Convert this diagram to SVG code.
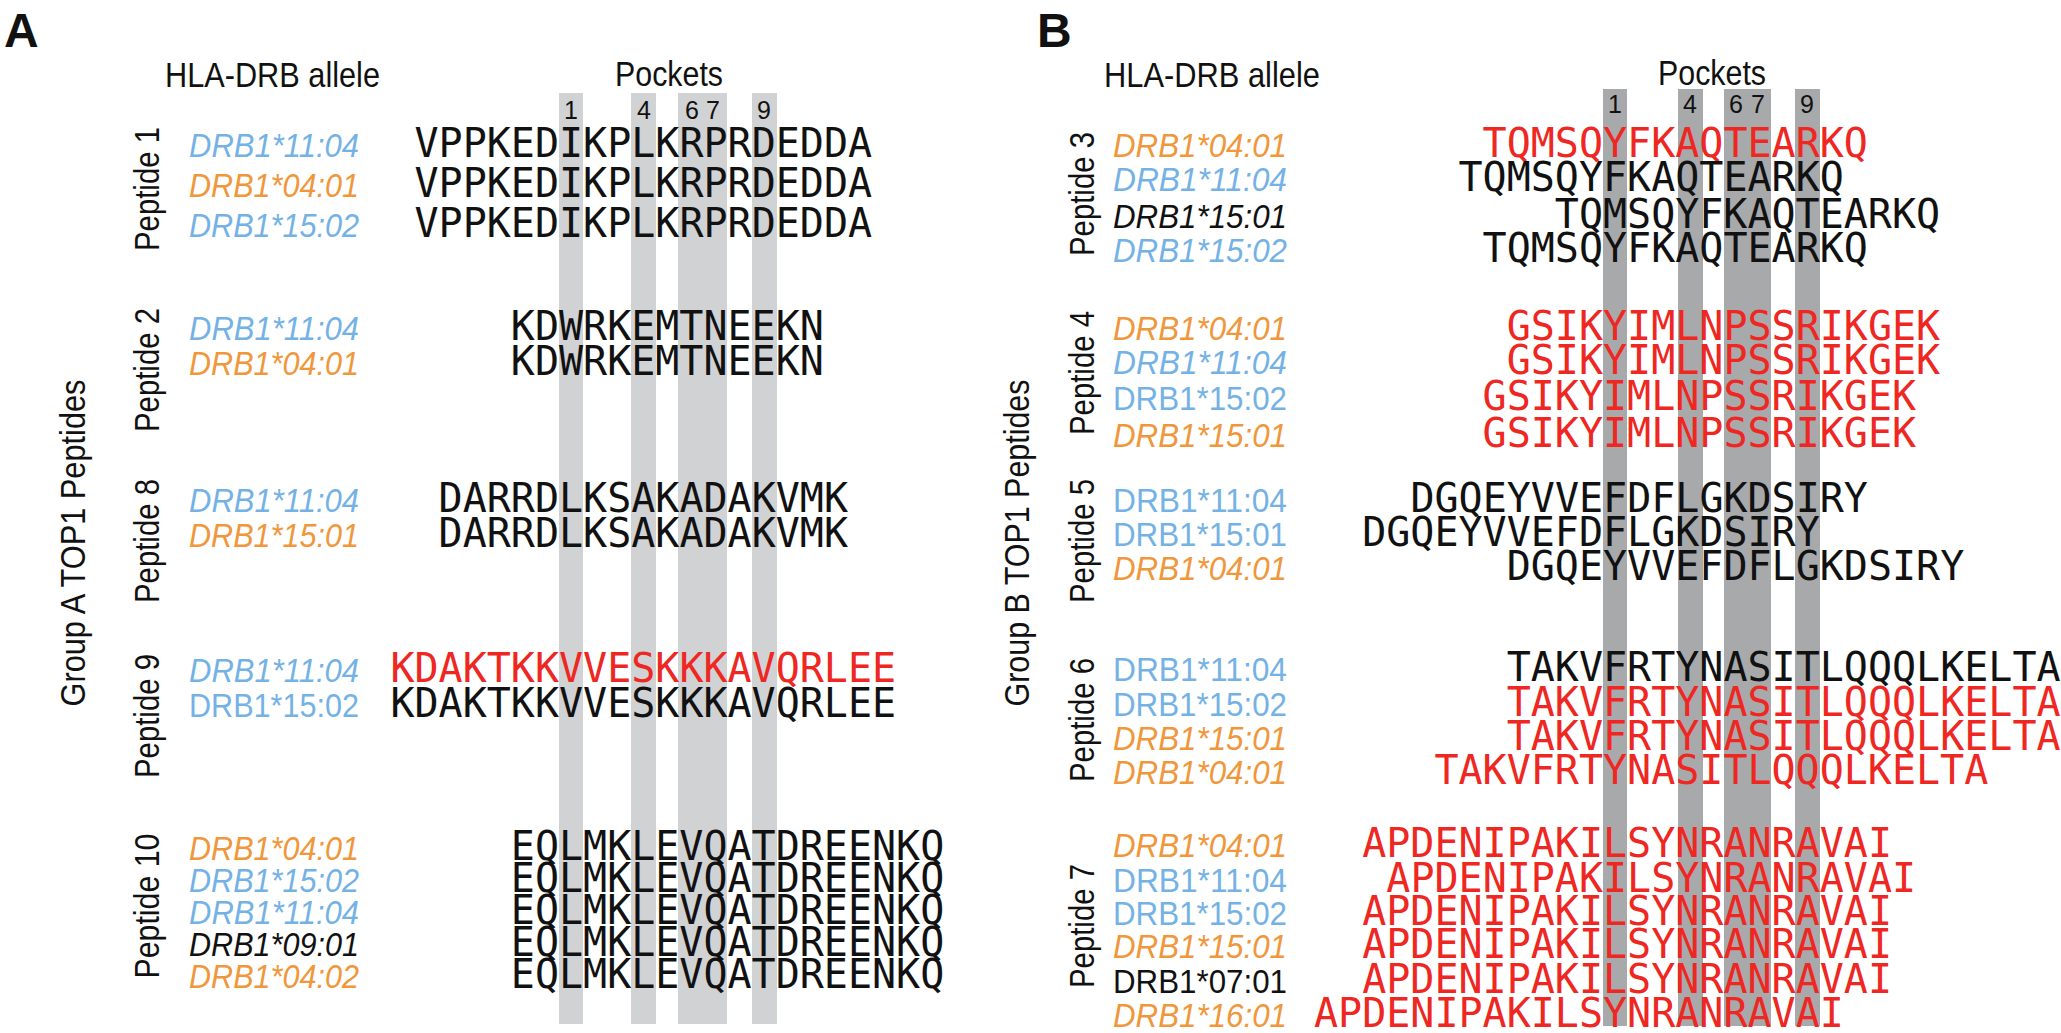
<svg xmlns="http://www.w3.org/2000/svg" width="2061" height="1033" viewBox="0 0 2061 1033">
<style>
.seq{font-family:"DejaVu Sans Mono",monospace;font-size:40px}
.red{fill:#ee2722}
.blk{fill:#111}
.al{font-family:"Liberation Sans",Arial,sans-serif;font-size:34px}
.it{font-style:italic}
.bl{fill:#74b2e6}
.or{fill:#f0973b}
.k{fill:#111}
.lbl{font-family:"Liberation Sans",Arial,sans-serif;font-size:35px;fill:#111}
.num{font-family:"Liberation Sans",Arial,sans-serif;font-size:25px;fill:#111;text-anchor:middle}
.pan{font-family:"Liberation Sans",Arial,sans-serif;font-size:48px;font-weight:bold;fill:#111}
.barA{fill:#d1d2d4}
.barB{fill:#a8a9ab}
</style>
<rect width="2061" height="1033" fill="#fff"/>

<g id="panelA-bars">
<rect class="barA" x="559" y="93" width="24" height="931"/>
<rect class="barA" x="631" y="93" width="25" height="931"/>
<rect class="barA" x="678" y="93" width="49" height="931"/>
<rect class="barA" x="752" y="93" width="25" height="931"/>
</g>
<g id="panelB-bars">
<rect class="barB" x="1603" y="89" width="24" height="937"/>
<rect class="barB" x="1678" y="89" width="25" height="937"/>
<rect class="barB" x="1724" y="89" width="47" height="937"/>
<rect class="barB" x="1795" y="89" width="25" height="937"/>
</g>

<g id="panelA-header">
<text class="pan" x="4" y="47">A</text>
<text class="lbl" x="165" y="87" textLength="215" lengthAdjust="spacingAndGlyphs">HLA-DRB allele</text>
<text class="lbl" x="615" y="86" font-size="33" textLength="108" lengthAdjust="spacingAndGlyphs">Pockets</text>
<text class="num" x="571" y="119">1</text>
<text class="num" x="644" y="119">4</text>
<text class="num" x="692" y="119">6</text>
<text class="num" x="713" y="119">7</text>
<text class="num" x="764" y="119">9</text>
<text class="lbl" x="85" y="543" text-anchor="middle" transform="rotate(-90 85 543)" textLength="327" lengthAdjust="spacingAndGlyphs">Group A TOP1 Peptides</text>
</g>

<g id="panelB-header">
<text class="pan" x="1037" y="47">B</text>
<text class="lbl" x="1104" y="87" textLength="216" lengthAdjust="spacingAndGlyphs">HLA-DRB allele</text>
<text class="lbl" x="1658" y="85" font-size="33" textLength="108" lengthAdjust="spacingAndGlyphs">Pockets</text>
<text class="num" x="1615" y="113">1</text>
<text class="num" x="1690" y="113">4</text>
<text class="num" x="1736" y="113">6</text>
<text class="num" x="1758" y="113">7</text>
<text class="num" x="1807" y="113">9</text>
<text class="lbl" x="1029" y="543" text-anchor="middle" transform="rotate(-90 1029 543)" textLength="327" lengthAdjust="spacingAndGlyphs">Group B TOP1 Peptides</text>
</g>

<g id="peptide1">
<text class="lbl" x="159" y="189" text-anchor="middle" transform="rotate(-90 159 189)" textLength="124" lengthAdjust="spacingAndGlyphs">Peptide 1</text>
<text class="al it bl" x="189" y="157" textLength="170" lengthAdjust="spacingAndGlyphs">DRB1*11:04</text>
<text class="al it or" x="189" y="197" textLength="170" lengthAdjust="spacingAndGlyphs">DRB1*04:01</text>
<text class="al it bl" x="189" y="237" textLength="170" lengthAdjust="spacingAndGlyphs">DRB1*15:02</text>
<text class="seq blk" x="414.5" y="157">VPPKEDIKPLKRPRDEDDA</text>
<text class="seq blk" x="414.5" y="197">VPPKEDIKPLKRPRDEDDA</text>
<text class="seq blk" x="414.5" y="237">VPPKEDIKPLKRPRDEDDA</text>
</g>

<g id="peptide2">
<text class="lbl" x="159" y="370" text-anchor="middle" transform="rotate(-90 159 370)" textLength="124" lengthAdjust="spacingAndGlyphs">Peptide 2</text>
<text class="al it bl" x="189" y="340" textLength="170" lengthAdjust="spacingAndGlyphs">DRB1*11:04</text>
<text class="al it or" x="189" y="375" textLength="170" lengthAdjust="spacingAndGlyphs">DRB1*04:01</text>
<text class="seq blk" x="510.8" y="340">KDWRKEMTNEEKN</text>
<text class="seq blk" x="510.8" y="375">KDWRKEMTNEEKN</text>
</g>

<g id="peptide8">
<text class="lbl" x="159" y="541" text-anchor="middle" transform="rotate(-90 159 541)" textLength="124" lengthAdjust="spacingAndGlyphs">Peptide 8</text>
<text class="al it bl" x="189" y="512" textLength="170" lengthAdjust="spacingAndGlyphs">DRB1*11:04</text>
<text class="al it or" x="189" y="547" textLength="170" lengthAdjust="spacingAndGlyphs">DRB1*15:01</text>
<text class="seq blk" x="438.6" y="512">DARRDLKSAKADAKVMK</text>
<text class="seq blk" x="438.6" y="547">DARRDLKSAKADAKVMK</text>
</g>

<g id="peptide9">
<text class="lbl" x="159" y="716" text-anchor="middle" transform="rotate(-90 159 716)" textLength="124" lengthAdjust="spacingAndGlyphs">Peptide 9</text>
<text class="al it bl" x="189" y="682" textLength="170" lengthAdjust="spacingAndGlyphs">DRB1*11:04</text>
<text class="al bl" x="189" y="717" textLength="170" lengthAdjust="spacingAndGlyphs">DRB1*15:02</text>
<text class="seq red" x="390.4" y="682">KDAKTKKVVESKKKAVQRLEE</text>
<text class="seq blk" x="390.4" y="717">KDAKTKKVVESKKKAVQRLEE</text>
</g>

<g id="peptide10">
<text class="lbl" x="159" y="906" text-anchor="middle" transform="rotate(-90 159 906)" textLength="145" lengthAdjust="spacingAndGlyphs">Peptide 10</text>
<text class="al it or" x="189" y="860" textLength="170" lengthAdjust="spacingAndGlyphs">DRB1*04:01</text>
<text class="al it bl" x="189" y="892" textLength="170" lengthAdjust="spacingAndGlyphs">DRB1*15:02</text>
<text class="al it bl" x="189" y="924" textLength="170" lengthAdjust="spacingAndGlyphs">DRB1*11:04</text>
<text class="al it k" x="189" y="956" textLength="170" lengthAdjust="spacingAndGlyphs">DRB1*09:01</text>
<text class="al it or" x="189" y="988" textLength="170" lengthAdjust="spacingAndGlyphs">DRB1*04:02</text>
<text class="seq blk" x="510.8" y="860">EQLMKLEVQATDREENKQ</text>
<text class="seq blk" x="510.8" y="892">EQLMKLEVQATDREENKQ</text>
<text class="seq blk" x="510.8" y="924">EQLMKLEVQATDREENKQ</text>
<text class="seq blk" x="510.8" y="956">EQLMKLEVQATDREENKQ</text>
<text class="seq blk" x="510.8" y="988">EQLMKLEVQATDREENKQ</text>
</g>

<g id="peptide3">
<text class="lbl" x="1094" y="194" text-anchor="middle" transform="rotate(-90 1094 194)" textLength="124" lengthAdjust="spacingAndGlyphs">Peptide 3</text>
<text class="al it or" x="1113" y="157" textLength="174" lengthAdjust="spacingAndGlyphs">DRB1*04:01</text>
<text class="al it bl" x="1113" y="191" textLength="174" lengthAdjust="spacingAndGlyphs">DRB1*11:04</text>
<text class="al it k" x="1113" y="228" textLength="174" lengthAdjust="spacingAndGlyphs">DRB1*15:01</text>
<text class="al it bl" x="1113" y="262" textLength="174" lengthAdjust="spacingAndGlyphs">DRB1*15:02</text>
<text class="seq red" x="1482.6" y="157">TQMSQYFKAQTEARKQ</text>
<text class="seq blk" x="1458.5" y="191">TQMSQYFKAQTEARKQ</text>
<text class="seq blk" x="1554.8" y="228">TQMSQYFKAQTEARKQ</text>
<text class="seq blk" x="1482.6" y="262">TQMSQYFKAQTEARKQ</text>
</g>

<g id="peptide4">
<text class="lbl" x="1094" y="373" text-anchor="middle" transform="rotate(-90 1094 373)" textLength="124" lengthAdjust="spacingAndGlyphs">Peptide 4</text>
<text class="al it or" x="1113" y="340" textLength="174" lengthAdjust="spacingAndGlyphs">DRB1*04:01</text>
<text class="al it bl" x="1113" y="374" textLength="174" lengthAdjust="spacingAndGlyphs">DRB1*11:04</text>
<text class="al bl" x="1113" y="410" textLength="174" lengthAdjust="spacingAndGlyphs">DRB1*15:02</text>
<text class="al it or" x="1113" y="447" textLength="174" lengthAdjust="spacingAndGlyphs">DRB1*15:01</text>
<text class="seq red" x="1506.7" y="340">GSIKYIMLNPSSRIKGEK</text>
<text class="seq red" x="1506.7" y="374">GSIKYIMLNPSSRIKGEK</text>
<text class="seq red" x="1482.6" y="410">GSIKYIMLNPSSRIKGEK</text>
<text class="seq red" x="1482.6" y="447">GSIKYIMLNPSSRIKGEK</text>
</g>

<g id="peptide5">
<text class="lbl" x="1094" y="541" text-anchor="middle" transform="rotate(-90 1094 541)" textLength="124" lengthAdjust="spacingAndGlyphs">Peptide 5</text>
<text class="al bl" x="1113" y="512" textLength="174" lengthAdjust="spacingAndGlyphs">DRB1*11:04</text>
<text class="al bl" x="1113" y="546" textLength="174" lengthAdjust="spacingAndGlyphs">DRB1*15:01</text>
<text class="al it or" x="1113" y="580" textLength="174" lengthAdjust="spacingAndGlyphs">DRB1*04:01</text>
<text class="seq blk" x="1410.4" y="512">DGQEYVVEFDFLGKDSIRY</text>
<text class="seq blk" x="1362.2" y="546">DGQEYVVEFDFLGKDSIRY</text>
<text class="seq blk" x="1506.7" y="580">DGQEYVVEFDFLGKDSIRY</text>
</g>

<g id="peptide6">
<text class="lbl" x="1094" y="720" text-anchor="middle" transform="rotate(-90 1094 720)" textLength="124" lengthAdjust="spacingAndGlyphs">Peptide 6</text>
<text class="al bl" x="1113" y="681" textLength="174" lengthAdjust="spacingAndGlyphs">DRB1*11:04</text>
<text class="al bl" x="1113" y="716" textLength="174" lengthAdjust="spacingAndGlyphs">DRB1*15:02</text>
<text class="al it or" x="1113" y="750" textLength="174" lengthAdjust="spacingAndGlyphs">DRB1*15:01</text>
<text class="al it or" x="1113" y="784" textLength="174" lengthAdjust="spacingAndGlyphs">DRB1*04:01</text>
<text class="seq blk" x="1506.7" y="681">TAKVFRTYNASITLQQQLKELTA</text>
<text class="seq red" x="1506.7" y="716">TAKVFRTYNASITLQQQLKELTA</text>
<text class="seq red" x="1506.7" y="750">TAKVFRTYNASITLQQQLKELTA</text>
<text class="seq red" x="1434.4" y="784">TAKVFRTYNASITLQQQLKELTA</text>
</g>

<g id="peptide7">
<text class="lbl" x="1094" y="926" text-anchor="middle" transform="rotate(-90 1094 926)" textLength="124" lengthAdjust="spacingAndGlyphs">Peptide 7</text>
<text class="al it or" x="1113" y="857" textLength="174" lengthAdjust="spacingAndGlyphs">DRB1*04:01</text>
<text class="al bl" x="1113" y="892" textLength="174" lengthAdjust="spacingAndGlyphs">DRB1*11:04</text>
<text class="al bl" x="1113" y="925" textLength="174" lengthAdjust="spacingAndGlyphs">DRB1*15:02</text>
<text class="al it or" x="1113" y="958" textLength="174" lengthAdjust="spacingAndGlyphs">DRB1*15:01</text>
<text class="al k" x="1113" y="993" textLength="174" lengthAdjust="spacingAndGlyphs">DRB1*07:01</text>
<text class="al it or" x="1113" y="1027" textLength="174" lengthAdjust="spacingAndGlyphs">DRB1*16:01</text>
<text class="seq red" x="1362.2" y="857">APDENIPAKILSYNRANRAVAI</text>
<text class="seq red" x="1386.3" y="892">APDENIPAKILSYNRANRAVAI</text>
<text class="seq red" x="1362.2" y="925">APDENIPAKILSYNRANRAVAI</text>
<text class="seq red" x="1362.2" y="958">APDENIPAKILSYNRANRAVAI</text>
<text class="seq red" x="1362.2" y="993">APDENIPAKILSYNRANRAVAI</text>
<text class="seq red" x="1314" y="1027">APDENIPAKILSYNRANRAVAI</text>
</g>
</svg>
